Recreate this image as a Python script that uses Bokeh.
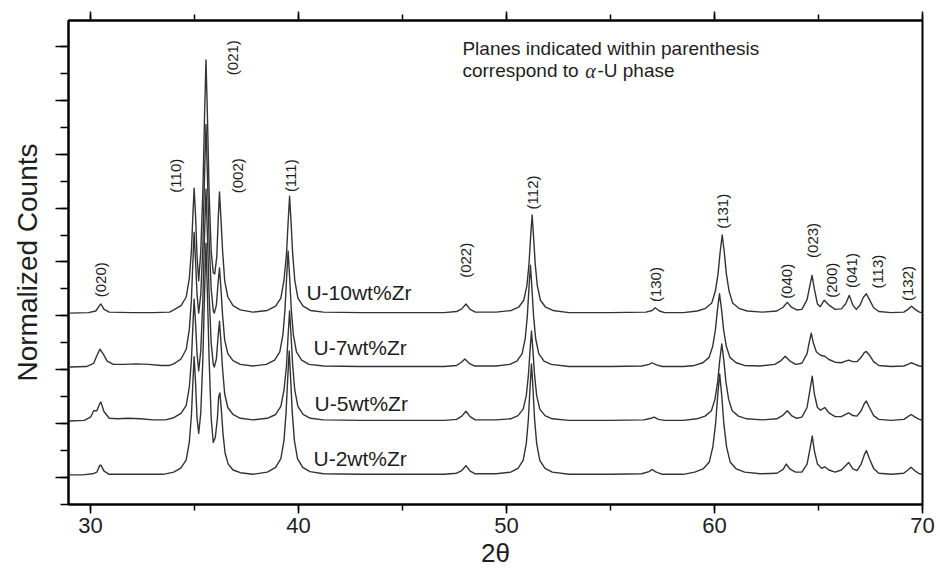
import numpy as np
from bokeh.plotting import figure
from bokeh.models import Range1d, LinearAxis, SingleIntervalTicker
from bokeh.core.properties import value
from bokeh.embed import file_html
from bokeh.resources import INLINE

# ---------------- data (2theta, normalized counts) ----------------
TRACE_NAMES = ["U-2wt%Zr", "U-5wt%Zr", "U-7wt%Zr", "U-10wt%Zr"]
TRACE_OFFSETS = [0, 1, 2, 3]

U2 = [(29.0, 0.05), (29.6, 0.05), (30.1, 0.07), (30.3, 0.10), (30.45, 0.23), (30.5, 0.23),
      (30.65, 0.12), (30.9, 0.06), (31.5, 0.06), (32.5, 0.06), (33.5, 0.06), (34.0, 0.10),
      (34.35, 0.18), (34.6, 0.33), (34.75, 0.66), (34.85, 1.15), (34.92, 1.76), (34.98, 2.24),
      (35.05, 1.75), (35.12, 1.10), (35.2, 0.82), (35.3, 1.20), (35.4, 2.20), (35.48, 3.40),
      (35.55, 4.35), (35.62, 3.40), (35.7, 2.20), (35.8, 1.10), (35.9, 0.65), (36.0, 0.75),
      (36.1, 1.10), (36.16, 1.50), (36.22, 1.57), (36.3, 1.20), (36.37, 0.80), (36.47, 0.45),
      (36.62, 0.25), (36.85, 0.14), (37.2, 0.09), (37.8, 0.06), (38.5, 0.10), (38.9, 0.19),
      (39.15, 0.35), (39.3, 0.69), (39.4, 1.20), (39.48, 1.84), (39.55, 2.35), (39.62, 1.84),
      (39.7, 1.20), (39.8, 0.69), (39.95, 0.35), (40.2, 0.19), (40.55, 0.11), (41.2, 0.07),
      (43.0, 0.06), (45.0, 0.06), (47.0, 0.06), (47.6, 0.08), (47.85, 0.13), (48.05, 0.22),
      (48.25, 0.12), (48.5, 0.07), (49.5, 0.07), (50.2, 0.10), (50.55, 0.17), (50.8, 0.32),
      (50.95, 0.63), (51.05, 1.08), (51.13, 1.66), (51.2, 2.11), (51.27, 1.66), (51.35, 1.08),
      (51.45, 0.63), (51.6, 0.32), (51.85, 0.17), (52.2, 0.10), (53.0, 0.06), (55.0, 0.06),
      (56.5, 0.07), (56.85, 0.11), (57.0, 0.15), (57.2, 0.10), (57.5, 0.06), (58.5, 0.06),
      (59.05, 0.10), (59.45, 0.16), (59.75, 0.29), (59.92, 0.57), (60.05, 0.99), (60.15, 1.51),
      (60.25, 1.92), (60.35, 1.51), (60.45, 0.99), (60.58, 0.57), (60.75, 0.29), (61.05, 0.16),
      (61.45, 0.10), (62.2, 0.07), (63.0, 0.08), (63.3, 0.15), (63.45, 0.25), (63.65, 0.15),
      (63.9, 0.10), (64.2, 0.10), (64.45, 0.25), (64.6, 0.55), (64.7, 0.77), (64.8, 0.50),
      (64.95, 0.25), (65.15, 0.17), (65.3, 0.20), (65.5, 0.14), (65.8, 0.10), (66.1, 0.14),
      (66.3, 0.22), (66.45, 0.28), (66.65, 0.16), (66.85, 0.13), (67.05, 0.25), (67.2, 0.42),
      (67.3, 0.50), (67.45, 0.35), (67.65, 0.17), (67.9, 0.08), (68.5, 0.06), (69.1, 0.08),
      (69.3, 0.14), (69.45, 0.19), (69.65, 0.12), (69.85, 0.07), (70.0, 0.06)]

U5 = [(29.0, 0.05), (29.7, 0.06), (30.0, 0.12), (30.15, 0.24), (30.3, 0.24), (30.45, 0.38),
      (30.5, 0.40), (30.65, 0.22), (30.9, 0.10), (31.3, 0.09), (31.8, 0.10), (32.4, 0.09),
      (33.0, 0.07), (33.6, 0.07), (34.0, 0.11), (34.35, 0.19), (34.6, 0.34), (34.75, 0.68),
      (34.85, 1.18), (34.92, 1.81), (34.98, 2.31), (35.05, 1.85), (35.12, 1.30), (35.2, 0.98),
      (35.3, 1.35), (35.4, 2.30), (35.48, 3.50), (35.55, 4.35), (35.62, 3.50), (35.7, 2.40),
      (35.8, 1.50), (35.9, 1.10), (35.95, 1.05), (36.05, 1.20), (36.13, 1.60), (36.2, 1.90),
      (36.27, 1.50), (36.35, 1.00), (36.45, 0.55), (36.6, 0.30), (36.85, 0.17), (37.2, 0.10),
      (37.8, 0.07), (38.5, 0.10), (38.9, 0.17), (39.15, 0.32), (39.3, 0.62), (39.42, 1.07),
      (39.5, 1.64), (39.57, 2.09), (39.64, 1.64), (39.72, 1.07), (39.82, 0.62), (39.97, 0.32),
      (40.22, 0.17), (40.57, 0.10), (41.2, 0.07), (43.0, 0.06), (45.0, 0.06), (47.0, 0.06),
      (47.6, 0.08), (47.85, 0.14), (48.05, 0.23), (48.25, 0.13), (48.5, 0.07), (49.5, 0.07),
      (50.2, 0.09), (50.55, 0.15), (50.8, 0.27), (50.95, 0.52), (51.05, 0.89), (51.13, 1.35),
      (51.2, 1.72), (51.27, 1.35), (51.35, 0.89), (51.45, 0.52), (51.6, 0.27), (51.85, 0.15),
      (52.2, 0.09), (53.0, 0.06), (55.0, 0.06), (56.6, 0.07), (56.95, 0.10), (57.1, 0.12),
      (57.3, 0.08), (57.6, 0.06), (58.5, 0.06), (59.15, 0.09), (59.55, 0.14), (59.85, 0.24),
      (60.02, 0.45), (60.15, 0.77), (60.25, 1.17), (60.35, 1.48), (60.45, 1.17), (60.55, 0.77),
      (60.68, 0.45), (60.85, 0.24), (61.15, 0.14), (61.55, 0.09), (62.3, 0.07), (63.0, 0.09),
      (63.3, 0.16), (63.5, 0.24), (63.7, 0.15), (63.95, 0.10), (64.2, 0.12), (64.45, 0.30),
      (64.6, 0.65), (64.7, 0.88), (64.8, 0.55), (64.95, 0.30), (65.1, 0.25), (65.3, 0.30),
      (65.5, 0.20), (65.8, 0.13), (66.1, 0.13), (66.3, 0.17), (66.45, 0.20), (66.65, 0.15),
      (66.85, 0.14), (67.05, 0.24), (67.2, 0.37), (67.3, 0.42), (67.45, 0.30), (67.65, 0.15),
      (67.9, 0.08), (68.5, 0.06), (69.1, 0.08), (69.3, 0.13), (69.45, 0.17), (69.65, 0.12),
      (69.85, 0.08), (70.0, 0.06)]

U7 = [(29.0, 0.05), (29.8, 0.06), (30.15, 0.12), (30.35, 0.30), (30.45, 0.38), (30.6, 0.30),
      (30.8, 0.16), (31.1, 0.10), (31.6, 0.10), (32.2, 0.11), (32.8, 0.10), (33.4, 0.08),
      (33.8, 0.08), (34.0, 0.11), (34.35, 0.20), (34.6, 0.38), (34.75, 0.75), (34.85, 1.30),
      (34.92, 2.00), (34.98, 2.55), (35.05, 2.00), (35.12, 1.40), (35.2, 1.05), (35.3, 1.40),
      (35.4, 2.30), (35.48, 3.60), (35.55, 4.55), (35.62, 3.60), (35.7, 2.40), (35.8, 1.50),
      (35.9, 1.10), (35.95, 1.05), (36.05, 1.20), (36.13, 1.60), (36.2, 1.89), (36.27, 1.50),
      (36.35, 1.00), (36.45, 0.55), (36.6, 0.30), (36.85, 0.17), (37.2, 0.10), (37.8, 0.07),
      (38.45, 0.10), (38.85, 0.18), (39.1, 0.33), (39.25, 0.65), (39.35, 1.13), (39.43, 1.73),
      (39.5, 2.20), (39.57, 1.73), (39.65, 1.13), (39.75, 0.65), (39.9, 0.33), (40.15, 0.18),
      (40.5, 0.10), (41.2, 0.07), (43.0, 0.06), (45.0, 0.06), (47.0, 0.06), (47.6, 0.08),
      (47.8, 0.13), (48.0, 0.20), (48.2, 0.12), (48.45, 0.07), (49.5, 0.07), (50.15, 0.10),
      (50.5, 0.16), (50.75, 0.30), (50.9, 0.58), (51.0, 1.00), (51.08, 1.52), (51.15, 1.94),
      (51.22, 1.52), (51.3, 1.00), (51.4, 0.58), (51.55, 0.30), (51.8, 0.16), (52.15, 0.10),
      (53.0, 0.06), (55.0, 0.06), (56.5, 0.07), (56.85, 0.10), (57.0, 0.13), (57.2, 0.09),
      (57.5, 0.06), (58.5, 0.06), (59.04, 0.08), (59.44, 0.13), (59.74, 0.23), (59.91, 0.43),
      (60.04, 0.73), (60.14, 1.11), (60.24, 1.41), (60.34, 1.11), (60.44, 0.73), (60.57, 0.43),
      (60.74, 0.23), (61.04, 0.13), (61.44, 0.08), (62.2, 0.07), (62.9, 0.10), (63.2, 0.17),
      (63.4, 0.25), (63.6, 0.17), (63.9, 0.10), (64.2, 0.12), (64.45, 0.30), (64.55, 0.50),
      (64.65, 0.68), (64.75, 0.50), (64.9, 0.33), (65.1, 0.27), (65.3, 0.25), (65.5, 0.19),
      (65.8, 0.14), (66.1, 0.13), (66.3, 0.16), (66.45, 0.18), (66.65, 0.15), (66.85, 0.15),
      (67.05, 0.23), (67.2, 0.32), (67.3, 0.34), (67.45, 0.27), (67.65, 0.15), (67.9, 0.08),
      (68.5, 0.06), (69.1, 0.07), (69.3, 0.10), (69.45, 0.13), (69.65, 0.10), (69.85, 0.07),
      (70.0, 0.06)]

U10 = [(29.0, 0.05), (29.9, 0.06), (30.25, 0.09), (30.45, 0.20), (30.5, 0.22), (30.65, 0.12),
       (30.9, 0.07), (32.0, 0.06), (33.0, 0.06), (33.8, 0.07), (34.0, 0.11), (34.35, 0.19),
       (34.6, 0.35), (34.75, 0.70), (34.85, 1.21), (34.92, 1.86), (34.98, 2.37), (35.05, 1.85),
       (35.12, 1.10), (35.2, 0.65), (35.3, 1.20), (35.4, 2.30), (35.48, 3.70), (35.55, 4.75),
       (35.62, 3.70), (35.7, 2.30), (35.8, 1.20), (35.9, 0.80), (35.97, 0.78), (36.07, 1.10),
       (36.14, 1.80), (36.2, 2.30), (36.27, 1.80), (36.35, 1.20), (36.45, 0.65), (36.6, 0.35),
       (36.85, 0.19), (37.2, 0.11), (37.8, 0.07), (38.5, 0.10), (38.9, 0.18), (39.15, 0.33),
       (39.3, 0.66), (39.42, 1.14), (39.5, 1.74), (39.57, 2.22), (39.64, 1.74), (39.72, 1.14),
       (39.82, 0.66), (39.97, 0.33), (40.22, 0.18), (40.57, 0.10), (41.2, 0.07), (43.0, 0.06),
       (45.0, 0.06), (47.0, 0.06), (47.6, 0.08), (47.85, 0.13), (48.05, 0.22), (48.25, 0.12),
       (48.5, 0.07), (49.5, 0.07), (50.23, 0.10), (50.58, 0.16), (50.83, 0.29), (50.98, 0.56),
       (51.08, 0.96), (51.16, 1.47), (51.23, 1.87), (51.3, 1.47), (51.38, 0.96), (51.48, 0.56),
       (51.63, 0.29), (51.88, 0.16), (52.23, 0.10), (53.0, 0.06), (55.0, 0.06), (56.7, 0.07),
       (57.0, 0.10), (57.15, 0.15), (57.35, 0.09), (57.6, 0.06), (58.5, 0.06), (59.17, 0.09),
       (59.57, 0.14), (59.87, 0.24), (60.04, 0.46), (60.17, 0.78), (60.27, 1.18), (60.37, 1.50),
       (60.47, 1.18), (60.57, 0.78), (60.7, 0.46), (60.87, 0.24), (61.17, 0.14), (61.57, 0.09),
       (62.3, 0.07), (63.0, 0.09), (63.3, 0.16), (63.5, 0.25), (63.7, 0.16), (63.95, 0.11),
       (64.2, 0.12), (64.45, 0.30), (64.58, 0.55), (64.69, 0.75), (64.8, 0.50), (64.95, 0.22),
       (65.08, 0.17), (65.28, 0.29), (65.5, 0.20), (65.8, 0.12), (66.1, 0.13), (66.3, 0.22),
       (66.48, 0.38), (66.65, 0.20), (66.82, 0.12), (67.0, 0.20), (67.15, 0.34), (67.3, 0.41),
       (67.45, 0.30), (67.65, 0.15), (67.9, 0.08), (68.5, 0.06), (69.1, 0.07), (69.3, 0.12),
       (69.47, 0.18), (69.65, 0.12), (69.85, 0.07), (70.0, 0.06)]

TRACES = [U2, U5, U7, U10]

PEAK_LABELS = ["(020)", "(110)", "(021)", "(002)", "(111)", "(022)", "(112)", "(130)",
               "(131)", "(040)", "(023)", "(200)", "(041)", "(113)", "(132)"]

# ---------------- annotation anchors (data coordinates) ----------------
PEAK_LABEL_X = [30.48, 34.09, 36.83, 37.07, 39.62, 48.03, 51.25, 57.16,
                60.38, 63.46, 64.71, 65.63, 66.59, 67.84, 69.28]
PEAK_LABEL_Y = [3.67, 5.60, 7.79, 5.60, 5.60, 4.03, 5.29, 3.58,
                4.94, 3.64, 4.40, 3.66, 3.84, 3.82, 3.60]
TRACE_LABEL_X = [40.72, 40.77, 40.72, 40.38]
TRACE_LABEL_Y = [0.35, 1.37, 2.41, 3.43]

FONT = "Liberation Sans"
INK = "#333333"
TXT = "#1e1e1e"

p = figure(width=940, height=572, output_backend="svg", toolbar_location=None,
           x_range=Range1d(28.94, 70.0), y_range=Range1d(-0.5, 8.48),
           min_border_left=68, min_border_right=18, min_border_top=20, min_border_bottom=68,
           background_fill_color="white", border_fill_color="white")

p.xgrid.visible = False
p.ygrid.visible = False
p.outline_line_color = "black"
p.outline_line_width = 2

# bottom axis
xa = p.xaxis[0]
xa.ticker = SingleIntervalTicker(interval=10, num_minor_ticks=2)
xa.axis_label = "2θ"
xa.axis_label_text_font = FONT
xa.axis_label_text_font_size = "26px"
xa.axis_label_text_font_style = "normal"
xa.axis_label_text_color = TXT
xa.axis_label_standoff = 2
xa.major_label_text_font = FONT
xa.major_label_text_font_size = "22px"
xa.major_label_text_color = TXT
xa.major_label_standoff = 4
xa.axis_line_width = 2
xa.major_tick_line_width = 1.5
xa.minor_tick_line_width = 1.5
xa.major_tick_in = 0
xa.major_tick_out = 9
xa.minor_tick_in = 0
xa.minor_tick_out = 6

# left axis (ticks without numbers)
ya = p.yaxis[0]
ya.ticker = SingleIntervalTicker(interval=1, num_minor_ticks=2)
ya.axis_label = "Normalized Counts"
ya.axis_label_text_font = FONT
ya.axis_label_text_font_size = "28px"
ya.axis_label_text_font_style = "normal"
ya.axis_label_text_color = TXT
ya.axis_label_standoff = 13
ya.major_label_text_font_size = "1px"
ya.major_label_text_color = None
ya.major_label_standoff = 0
ya.axis_line_width = 2
ya.major_tick_line_width = 1.5
ya.minor_tick_line_width = 1.5
ya.major_tick_in = 0
ya.major_tick_out = 13
ya.minor_tick_in = 0
ya.minor_tick_out = 8

# top axis (ticks only)
top = LinearAxis(ticker=SingleIntervalTicker(interval=10, num_minor_ticks=2),
                 major_label_text_font_size="1px", major_label_text_color=None,
                 major_label_standoff=0,
                 axis_line_width=2, major_tick_line_width=1.5, minor_tick_line_width=1.5,
                 major_tick_in=0, major_tick_out=9, minor_tick_in=0, minor_tick_out=6)
p.add_layout(top, "above")

# traces
for pts, off in zip(TRACES, TRACE_OFFSETS):
    xs = [a for a, b in pts]
    ys = [b + off for a, b in pts]
    p.line(xs, ys, line_color=INK, line_width=1.4, line_join="round")

# peak labels
p.text(x=PEAK_LABEL_X, y=PEAK_LABEL_Y, text=PEAK_LABELS, angle=np.pi / 2,
       text_font=value(FONT), text_font_size=value("15px"), text_color=TXT,
       text_align="center", text_baseline="middle")

# trace labels
p.text(x=TRACE_LABEL_X, y=TRACE_LABEL_Y, text=TRACE_NAMES,
       text_font=value(FONT), text_font_size=value("21px"), text_color=TXT,
       text_align="left", text_baseline="middle")

# note
p.text(x=[47.88], y=[7.96], text=["Planes indicated within parenthesis"],
       text_font=value(FONT), text_font_size=value("19px"), text_color=TXT,
       text_align="left", text_baseline="middle")
p.text(x=[47.88], y=[7.55], text=["correspond to"],
       text_font=value(FONT), text_font_size=value("19px"), text_color=TXT,
       text_align="left", text_baseline="middle")
p.text(x=[53.78], y=[7.55], text=["α"],
       text_font=value("Liberation Serif"), text_font_size=value("20px"),
       text_font_style="italic", text_color=TXT,
       text_align="left", text_baseline="middle")
p.text(x=[54.37], y=[7.55], text=["-U phase"],
       text_font=value(FONT), text_font_size=value("19px"), text_color=TXT,
       text_align="left", text_baseline="middle")

open("out.html", "w").write(file_html(p, INLINE))
